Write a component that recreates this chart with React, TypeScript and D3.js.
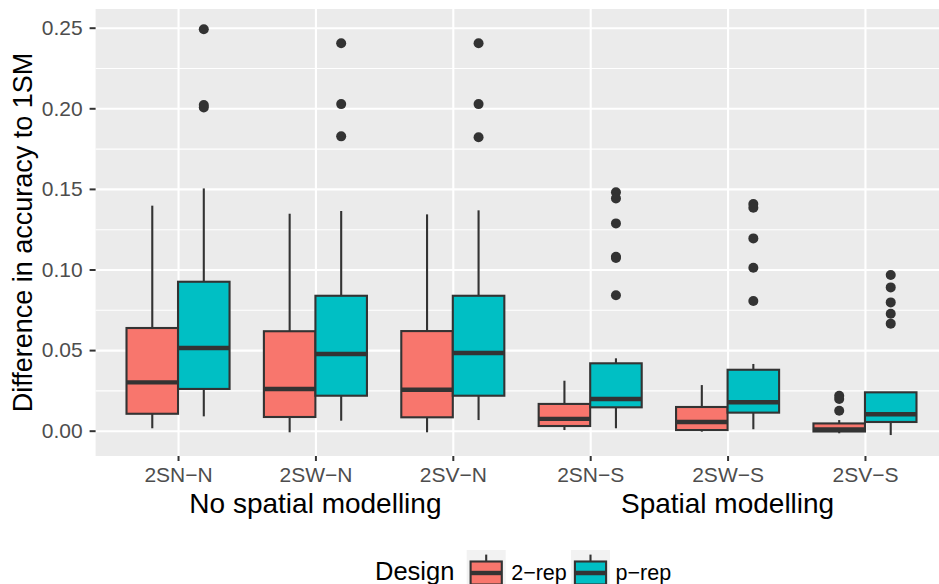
import * as d3 from "d3";
import {useEffect, useRef} from "react";

// categories and groups
const categories = ["2SN−N", "2SW−N", "2SV−N", "2SN−S", "2SW−S", "2SV−S"];
const groupLabels = ["No spatial modelling", "Spatial modelling"];
const groupCenters = ["2SW−N", "2SW−S"];
const designs = ["2−rep", "p−rep"];
const designColors = ["#F8766D", "#00BFC4"];

// [lower whisker, Q1, median, Q3, upper whisker]
const rep2Stats = [
    [0.0015, 0.0105, 0.0300, 0.0637, 0.1396],
    [-0.0010, 0.0085, 0.0259, 0.0617, 0.1346],
    [-0.0010, 0.0083, 0.0254, 0.0618, 0.1342],
    [0.0004, 0.0029, 0.0073, 0.0166, 0.0310],
    [-0.0006, 0.0004, 0.0054, 0.0147, 0.0283],
    [-0.0016, -0.0005, 0.0007, 0.0045, 0.0066],
];
const prepStats = [
    [0.0089, 0.0259, 0.0513, 0.0924, 0.1503],
    [0.0062, 0.0217, 0.0476, 0.0837, 0.1363],
    [0.0066, 0.0217, 0.0482, 0.0837, 0.1367],
    [0.0015, 0.0145, 0.0197, 0.0418, 0.0449],
    [0.0009, 0.0112, 0.0176, 0.0378, 0.0414],
    [-0.0027, 0.0054, 0.0102, 0.0238, 0.0238],
];
const rep2Outliers = [[], [], [], [], [], [0.0217, 0.0197, 0.0124]];
const prepOutliers = [
    [0.2490, 0.2020, 0.2005],
    [0.2403, 0.2026, 0.1826],
    [0.2403, 0.2026, 0.1820],
    [0.1479, 0.1441, 0.1286, 0.1079, 0.1072, 0.0840],
    [0.1406, 0.1383, 0.1193, 0.1011, 0.0804],
    [0.0966, 0.0889, 0.0796, 0.0726, 0.0664],
];
const yMajor = [0, 0.05, 0.10, 0.15, 0.20, 0.25];
const yMinor = [0.025, 0.075, 0.125, 0.175, 0.225];

const W = 939, H = 584;
const font = "'Liberation Sans', Arial, Helvetica, sans-serif";

const App = () => {
    const svgRef = useRef(null);

    useEffect(() => {
        if (!svgRef.current) return;
        d3.select(svgRef.current).selectAll("*").remove();

        const panel = {left: 95.6, right: 947.4, top: 9, bottom: 456};
        const innerWidth = panel.right - panel.left;

        const x = d3.scalePoint<string>()
            .domain(categories)
            .range([panel.left, panel.right])
            .padding(0.6);
        const step = x.step();
        const boxW = step * 0.75 / 2;

        const y = d3.scaleLinear()
            .domain([-0.0157, 0.2616])
            .range([panel.bottom, panel.top]);

        const svg = d3.select(svgRef.current)
            .attr("width", W)
            .attr("height", H)
            .style("font-family", font);

        svg.append("rect")
            .attr("width", W).attr("height", H).attr("fill", "white");

        // panel background
        svg.append("rect")
            .attr("x", panel.left).attr("y", panel.top)
            .attr("width", innerWidth).attr("height", panel.bottom - panel.top)
            .attr("fill", "#EBEBEB");

        // minor grid
        svg.append("g")
            .attr("transform", `translate(${panel.left},0)`)
            .call(d3.axisLeft(y).tickValues(yMinor).tickSize(-innerWidth).tickFormat(() => ""))
            .call(g => g.select(".domain").remove())
            .call(g => g.selectAll("line").attr("stroke", "white").attr("stroke-width", 1.1));

        // major grid
        svg.append("g")
            .attr("transform", `translate(${panel.left},0)`)
            .call(d3.axisLeft(y).tickValues(yMajor).tickSize(-innerWidth).tickFormat(() => ""))
            .call(g => g.select(".domain").remove())
            .call(g => g.selectAll("line").attr("stroke", "white").attr("stroke-width", 2.1));

        svg.append("g")
            .attr("transform", `translate(0,${panel.top})`)
            .call(d3.axisBottom(x).tickSize(panel.bottom - panel.top).tickFormat(() => ""))
            .call(g => g.select(".domain").remove())
            .call(g => g.selectAll("line").attr("stroke", "white").attr("stroke-width", 2.1));

        // boxes
        const allStats = [rep2Stats, prepStats];
        const allOutliers = [rep2Outliers, prepOutliers];
        const dark = "#333333";

        designs.forEach((design, di) => {
            const offset = (di === 0 ? -1 : 1) * boxW / 2;
            const g = svg.append("g").attr("class", `design-${di}`);
            const rows = categories.map((c, i) => ({c, s: allStats[di][i], o: allOutliers[di][i]}));

            const box = g.selectAll("g.box")
                .data(rows)
                .enter()
                .append("g")
                .attr("class", "box");

            // whiskers
            box.append("line")
                .attr("x1", d => (x(d.c) as number) + offset)
                .attr("x2", d => (x(d.c) as number) + offset)
                .attr("y1", d => y(d.s[3]))
                .attr("y2", d => y(d.s[4]))
                .attr("stroke", dark).attr("stroke-width", 2.1);
            box.append("line")
                .attr("x1", d => (x(d.c) as number) + offset)
                .attr("x2", d => (x(d.c) as number) + offset)
                .attr("y1", d => y(d.s[1]))
                .attr("y2", d => y(d.s[0]))
                .attr("stroke", dark).attr("stroke-width", 2.1);

            box.append("rect")
                .attr("x", d => (x(d.c) as number) + offset - boxW / 2)
                .attr("width", boxW)
                .attr("y", d => y(d.s[3]))
                .attr("height", d => y(d.s[1]) - y(d.s[3]))
                .attr("fill", designColors[di])
                .attr("stroke", dark).attr("stroke-width", 2.1);

            box.append("line")
                .attr("x1", d => (x(d.c) as number) + offset - boxW / 2)
                .attr("x2", d => (x(d.c) as number) + offset + boxW / 2)
                .attr("y1", d => y(d.s[2]))
                .attr("y2", d => y(d.s[2]))
                .attr("stroke", dark).attr("stroke-width", 4.4);

            box.selectAll("circle")
                .data(d => d.o.map(v => ({c: d.c, v})))
                .enter()
                .append("circle")
                .attr("cx", d => (x(d.c) as number) + offset)
                .attr("cy", d => y(d.v))
                .attr("r", 5)
                .attr("fill", dark);
        });

        // y axis
        svg.append("g")
            .attr("transform", `translate(${panel.left},0)`)
            .call(d3.axisLeft(y).tickValues(yMajor).tickSize(6).tickPadding(7).tickFormat(d3.format(".2f")))
            .call(g => g.select(".domain").remove())
            .call(g => g.selectAll("line").attr("stroke", dark).attr("stroke-width", 2))
            .call(g => g.selectAll("text")
                .attr("fill", "#4D4D4D")
                .style("font-size", "21px")
                .style("font-family", font));

        // x axis
        svg.append("g")
            .attr("transform", `translate(0,${panel.bottom})`)
            .call(d3.axisBottom(x).tickSize(5).tickPadding(6))
            .call(g => g.select(".domain").remove())
            .call(g => g.selectAll("line").attr("stroke", dark).attr("stroke-width", 2))
            .call(g => g.selectAll("text")
                .attr("fill", "#4D4D4D")
                .style("font-size", "21px")
                .style("font-family", font));

        // group labels
        svg.selectAll("text.group")
            .data(groupLabels)
            .enter()
            .append("text")
            .attr("class", "group")
            .attr("x", (d, i) => x(groupCenters[i]) as number)
            .attr("y", 512.7)
            .attr("text-anchor", "middle")
            .attr("font-size", 28)
            .attr("fill", "black")
            .text(d => d);

        // y title
        svg.append("text")
            .attr("transform", `translate(31.5,${(panel.top + panel.bottom) / 2}) rotate(-90)`)
            .attr("text-anchor", "middle")
            .attr("font-size", 27)
            .attr("fill", "black")
            .text("Difference in accuracy to 1SM");

        // legend
        const legend = svg.append("g");
        legend.append("text")
            .attr("x", 375).attr("y", 580)
            .attr("font-size", 25.5)
            .attr("fill", "black")
            .text("Design");

        const keyX = [466.7, 571];
        const keyW = 39, keyH = 46, keyTop = 550;
        designs.forEach((design, di) => {
            const kx = keyX[di];
            const cx = kx + keyW / 2;
            legend.append("rect")
                .attr("x", kx).attr("y", keyTop)
                .attr("width", keyW).attr("height", keyH)
                .attr("fill", "#F2F2F2");
            legend.append("line")
                .attr("x1", cx).attr("x2", cx)
                .attr("y1", keyTop + keyH * 0.1).attr("y2", keyTop + keyH * 0.9)
                .attr("stroke", dark).attr("stroke-width", 2.1);
            legend.append("rect")
                .attr("x", kx + keyW * 0.1).attr("y", keyTop + keyH * 0.25)
                .attr("width", keyW * 0.8).attr("height", keyH * 0.5)
                .attr("fill", designColors[di])
                .attr("stroke", dark).attr("stroke-width", 2.1);
            legend.append("line")
                .attr("x1", kx + keyW * 0.1).attr("x2", kx + keyW * 0.9)
                .attr("y1", keyTop + keyH * 0.5).attr("y2", keyTop + keyH * 0.5)
                .attr("stroke", dark).attr("stroke-width", 4.4);
            legend.append("text")
                .attr("x", kx + keyW + 5.5).attr("y", 579.5)
                .attr("font-size", 21.5)
                .attr("fill", "black")
                .text(design);
        });
    }, []);

    return <svg ref={svgRef} style={{position: "absolute", left: 0, top: 0, display: "block"}}></svg>;
};

export default App;
